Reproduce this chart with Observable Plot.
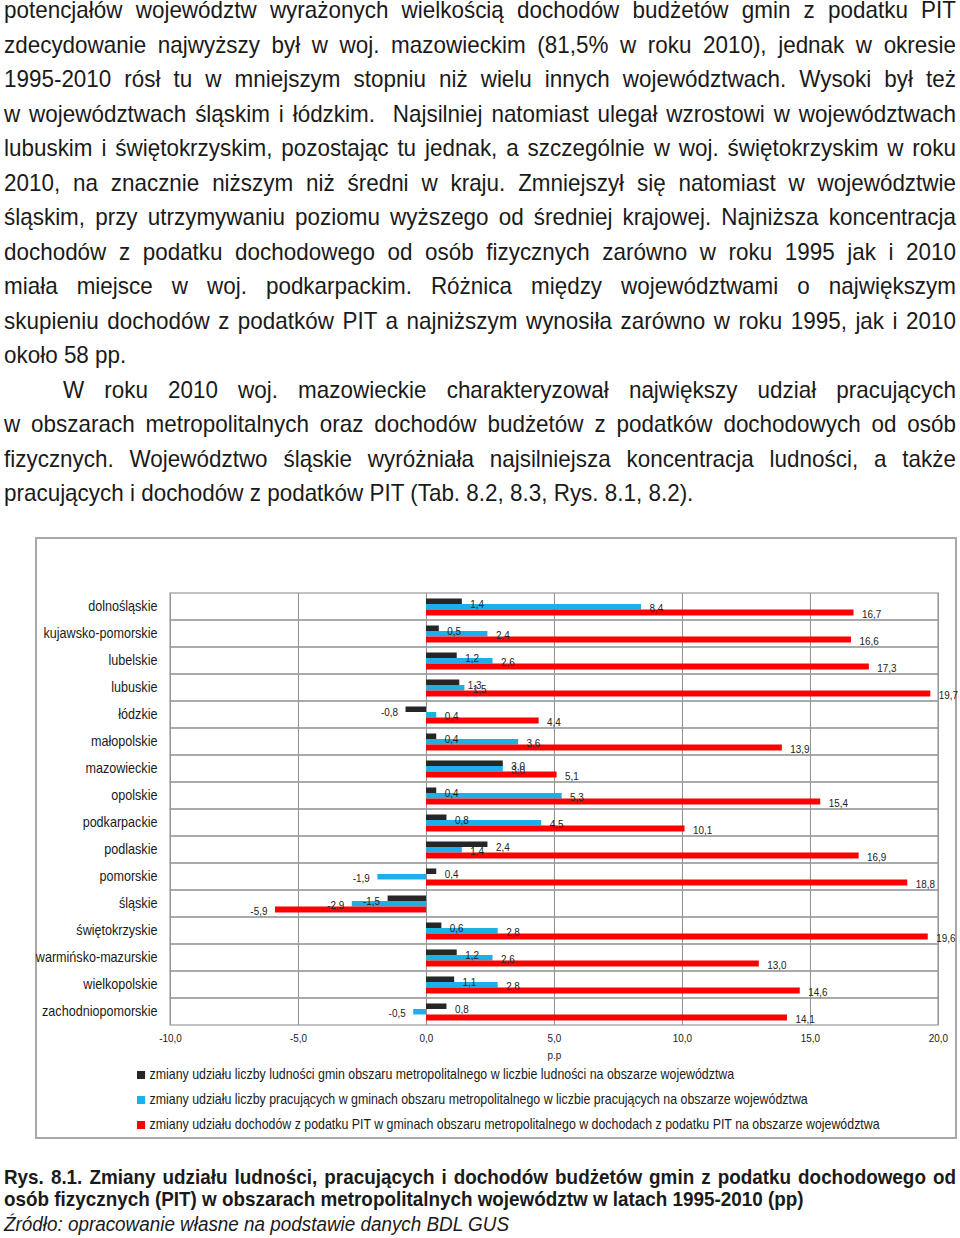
<!DOCTYPE html>
<html lang="pl">
<head>
<meta charset="utf-8">
<script src="https://cdn.jsdelivr.net/npm/d3@7"></script>
<script src="https://cdn.jsdelivr.net/npm/@observablehq/plot@0.6"></script>
<style>
  html, body { margin: 0; padding: 0; background: #fff; }
  body { width: 960px; height: 1238px; position: relative; overflow: hidden; font-family: "Liberation Sans", Arial, sans-serif; color: #1a1a1a; }
  /* the original typesetting uses a slightly condensed sans: emulate with a horizontal squeeze */
  #text { position: absolute; left: 4px; top: -7px; width: calc(952px / 0.935); font-size: 24px; line-height: 34.5px;
          transform: scaleX(0.935); transform-origin: 0 0; }
  #text .j { text-align: justify; text-align-last: justify; word-spacing: -2px; }
  #text .l { text-align: left; }
  #text .ind { padding-left: calc(59px / 0.935); }
  #box { position: absolute; left: 35px; top: 537px; width: 922px; height: 602px; box-sizing: border-box; border: 2px solid #a8a8a8; }
  #chart { position: absolute; left: 35px; top: 537px; width: calc(922px / 0.9); transform: scaleX(0.9); transform-origin: 0 0; }
  #chart svg { overflow: visible; max-width: none; }
  #legend { position: absolute; left: 137px; top: 1061.5px; font-size: 13.75px; line-height: 25px; color: #1a1a1a;
            transform: scaleX(0.9); transform-origin: 0 0; white-space: nowrap; }
  #legend .sw { display: inline-block; width: 8.9px; height: 8px; margin-right: 5px; vertical-align: 0px; }
  #caption { position: absolute; left: 4px; top: 1166px; width: calc(952px / 0.92); font-size: 20.5px; line-height: 22px; font-weight: bold;
             transform: scaleX(0.92); transform-origin: 0 0; }
  #caption .j { text-align: justify; text-align-last: justify; }
  #source { position: absolute; left: 4px; top: 1212px; font-size: 20.5px; line-height: 24px; font-style: italic;
            transform: scaleX(0.92); transform-origin: 0 0; white-space: nowrap; }
</style>
</head>
<body>
<div id="text">
  <div class="j">potencjałów województw wyrażonych wielkością dochodów budżetów gmin z podatku PIT</div>
  <div class="j">zdecydowanie najwyższy był w woj. mazowieckim (81,5% w roku 2010), jednak w okresie</div>
  <div class="j">1995-2010 rósł tu w mniejszym stopniu niż wielu innych województwach. Wysoki był też</div>
  <div class="j">w województwach śląskim i łódzkim.&nbsp; Najsilniej natomiast ulegał wzrostowi w województwach</div>
  <div class="j">lubuskim i świętokrzyskim, pozostając tu jednak, a szczególnie w woj. świętokrzyskim w roku</div>
  <div class="j">2010, na znacznie niższym niż średni w kraju. Zmniejszył się natomiast w województwie</div>
  <div class="j">śląskim, przy utrzymywaniu poziomu wyższego od średniej krajowej. Najniższa koncentracja</div>
  <div class="j">dochodów z podatku dochodowego od osób fizycznych zarówno w roku 1995 jak i 2010</div>
  <div class="j">miała miejsce w woj. podkarpackim. Różnica między województwami o największym</div>
  <div class="j">skupieniu dochodów z podatków PIT a najniższym wynosiła zarówno w roku 1995, jak i 2010</div>
  <div class="l">około 58 pp.</div>
  <div class="j ind">W roku 2010 woj. mazowieckie charakteryzował największy udział pracujących</div>
  <div class="j">w obszarach metropolitalnych oraz dochodów budżetów z podatków dochodowych od osób</div>
  <div class="j">fizycznych. Województwo śląskie wyróżniała najsilniejsza koncentracja ludności, a także</div>
  <div class="l">pracujących i dochodów z podatków PIT (Tab. 8.2, 8.3, Rys. 8.1, 8.2).</div>
</div>
<div id="box"></div>
<div id="chart"></div>
<div id="legend"></div>
<div id="caption">
  <div class="j">Rys. 8.1. Zmiany udziału ludności, pracujących i dochodów budżetów gmin z podatku dochodowego od</div>
  <div>osób fizycznych (PIT) w obszarach metropolitalnych województw w latach 1995-2010 (pp)</div>
</div>
<div id="source">Źródło: opracowanie własne na podstawie danych BDL GUS</div>
<script>
// ---- data ----
const provinces = ["dolnośląskie", "kujawsko-pomorskie", "lubelskie", "lubuskie", "łódzkie", "małopolskie", "mazowieckie", "opolskie", "podkarpackie", "podlaskie", "pomorskie", "śląskie", "świętokrzyskie", "warmińsko-mazurskie", "wielkopolskie", "zachodniopomorskie"];
const ludnosc =    [1.4, 0.5, 1.2, 1.3, -0.8, 0.4, 3.0, 0.4, 0.8, 2.4, 0.4, -1.5, 0.6, 1.2, 1.1, 0.8];
const pracujacy =  [8.4, 2.4, 2.6, 1.5, 0.4, 3.6, 3.0, 5.3, 4.5, 1.4, -1.9, -2.9, 2.8, 2.6, 2.8, -0.5];
const dochodyPIT = [16.7, 16.6, 17.3, 19.7, 4.4, 13.9, 5.1, 15.4, 10.1, 16.9, 18.8, -5.9, 19.6, 13.0, 14.6, 14.1];
const seriesNames = [
  "zmiany udziału liczby ludności gmin obszaru metropolitalnego w liczbie ludności na obszarze województwa",
  "zmiany udziału liczby pracujących w gminach obszaru metropolitalnego w liczbie pracujących na obszarze województwa",
  "zmiany udziału dochodów z podatku PIT w gminach obszaru metropolitalnego w dochodach z podatku PIT na obszarze województwa"
];
const seriesColors = ["#262626", "#1eaee8", "#ff0000"];
const xDomain = [-10, 20];
const xTicks = [-10, -5, 0, 5, 10, 15, 20];
const xLabel = "p.p";

// ---- table ----
const seriesValues = [ludnosc, pracujacy, dochodyPIT];
const rows = [];
seriesValues.forEach((vals, s) => vals.forEach((v, i) => rows.push({prov: provinces[i], s, value: v})));
const fmt = v => v.toFixed(1).replace(".", ",");

// horizontal squeeze applied to the whole chart (condensed look of the original)
const squeeze = 0.9;

// position of each series inside a province band (px insets) and label offsets
const layout = [
  {insetTop: 5.5, insetBottom: 16, dy: -3},
  {insetTop: 11, insetBottom: 10.5, dy: 1.5},
  {insetTop: 16.5, insetBottom: 4.5, dy: 7.5}
];

const marks = [
  Plot.gridX({ticks: xTicks, stroke: "#8c8c8c", strokeOpacity: 1, strokeWidth: 1.1}),
  Plot.barX(provinces, {x1: xDomain[0], x2: xDomain[1], y: d => d, fill: "none", stroke: "#9a9a9a", strokeWidth: 1.2})
];
seriesValues.forEach((vals, s) => {
  const data = rows.filter(r => r.s === s);
  marks.push(Plot.barX(data, {x: "value", y: "prov", fill: seriesColors[s], insetTop: layout[s].insetTop, insetBottom: layout[s].insetBottom}));
});
seriesValues.forEach((vals, s) => {
  const data = rows.filter(r => r.s === s);
  marks.push(Plot.text(data.filter(r => r.value >= 0), {x: "value", y: "prov", text: r => fmt(r.value), textAnchor: "start", dx: 8 / squeeze, dy: layout[s].dy, fontSize: 11, fill: "#222"}));
  marks.push(Plot.text(data.filter(r => r.value < 0), {x: "value", y: "prov", text: r => fmt(r.value), textAnchor: "end", dx: -8 / squeeze, dy: layout[s].dy, fontSize: 11, fill: "#222"}));
});
marks.push(Plot.axisY({tickSize: 0, tickPadding: 13 / squeeze, fontSize: 14, label: null}));
marks.push(Plot.axisX({ticks: xTicks, tickFormat: fmt, tickSize: 0, tickPadding: 9, fontSize: 11, label: xLabel, labelAnchor: "center", labelArrow: "none", labelOffset: 34}));

const chart = Plot.plot({
  width: 922 / squeeze,
  height: 528,
  marginLeft: 135 / squeeze,
  marginRight: 19 / squeeze,
  marginTop: 56,
  marginBottom: 40,
  style: {fontFamily: "Liberation Sans, Arial, sans-serif", color: "#1a1a1a", background: "transparent", overflow: "visible", maxWidth: "none"},
  x: {domain: xDomain, ticks: xTicks},
  y: {domain: provinces, padding: 0},
  marks
});
document.getElementById("chart").append(chart);

// ---- legend ----
const legend = document.getElementById("legend");
seriesNames.forEach((name, s) => {
  const row = document.createElement("div");
  const sw = document.createElement("span");
  sw.className = "sw";
  sw.style.background = seriesColors[s];
  row.append(sw, document.createTextNode(name));
  legend.append(row);
});
</script>
</body>
</html>
